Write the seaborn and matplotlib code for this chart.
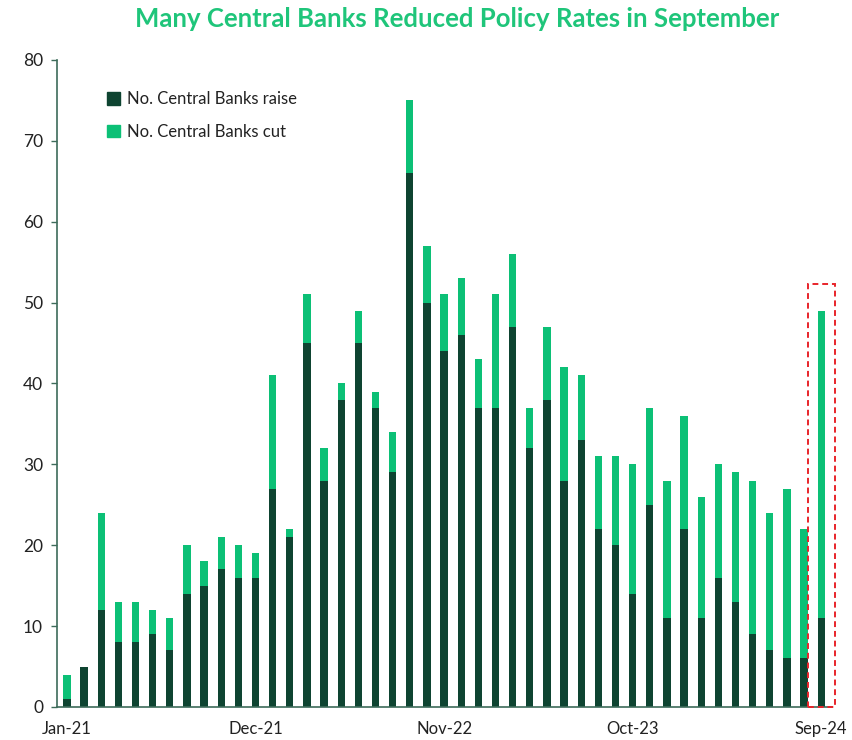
import matplotlib
matplotlib.use("Agg")
import matplotlib.pyplot as plt
import seaborn as sns
import pandas as pd
from matplotlib.patches import Rectangle, Patch

months = pd.date_range("2021-01-01", "2024-09-01", freq="MS").strftime("%b-%y").tolist()

raise_counts = [1, 5, 12, 8, 8, 9, 7, 14, 15, 17, 16, 16,
                27, 21, 45, 28, 38, 45, 37, 29, 66, 50, 44,
                46, 37, 37, 47, 32, 38, 28, 33, 22, 20, 14,
                25, 11, 22, 11, 16, 13, 9, 7, 6, 6, 11]
cut_counts = [3, 0, 12, 5, 5, 3, 4, 6, 3, 4, 4, 3,
              14, 1, 6, 4, 2, 4, 2, 5, 9, 7, 7,
              7, 6, 14, 9, 5, 9, 14, 8, 9, 11, 16,
              12, 17, 14, 15, 14, 16, 19, 17, 21, 16, 38]
tick_labels = ["Jan-21", "Dec-21", "Nov-22", "Oct-23", "Sep-24"]

RAISE_C = "#0e4431"
CUT_C = "#0cc076"

df = pd.DataFrame({
    "month": months,
    "raise": raise_counts,
    "total": [r + c for r, c in zip(raise_counts, cut_counts)],
})

sns.set_theme(style="white")
plt.rcParams["font.family"] = ["Lato", "DejaVu Sans"]

fig = plt.figure(figsize=(8.53, 7.4), dpi=100)
ax = fig.add_axes([0.0668, 0.0446, 0.908, 0.8744])

sns.barplot(data=df, x="month", y="total", color=CUT_C, width=0.42,
            saturation=1, ax=ax, order=months, linewidth=0, edgecolor="none")
sns.barplot(data=df, x="month", y="raise", color=RAISE_C, width=0.42,
            saturation=1, ax=ax, order=months, linewidth=0, edgecolor="none")

ax.set_ylim(0, 80)
ax.set_xlim(-0.58, 44.6)
ax.set_yticks(range(0, 81, 10))
pos = [months.index(l) for l in tick_labels]
ax.set_xticks(pos)
ax.set_xticklabels(tick_labels)
ax.set_xlabel("")
ax.set_ylabel("")

spine_c = "#3d6b5a"
for s in ["top", "right"]:
    ax.spines[s].set_visible(False)
for s in ["left", "bottom"]:
    ax.spines[s].set_color(spine_c)
    ax.spines[s].set_linewidth(1.2)
ax.tick_params(axis="y", which="major", left=True, length=4, width=1,
               color=spine_c, labelsize=12.5, labelcolor="#222222", pad=6)
ax.tick_params(axis="x", bottom=False, labelsize=12, labelcolor="#222222", pad=4)

# highlight latest month
last = len(months) - 1
ax.add_patch(Rectangle((last - 0.8, 0), 1.62, 52.3, fill=False,
                       edgecolor="#e8242a", linestyle=(0, (3, 2)), linewidth=1.4,
                       clip_on=False, zorder=5))

handles = [Patch(color=RAISE_C, label="No. Central Banks raise"),
           Patch(color=CUT_C, label="No. Central Banks cut")]
ax.legend(handles=handles, loc="upper left", bbox_to_anchor=(0.045, 0.975),
          frameon=False, fontsize=12, handlelength=0.8, handleheight=0.8,
          handletextpad=0.4, labelspacing=1.0, labelcolor="#222222")

fig.suptitle("Many Central Banks Reduced Policy Rates in September",
             x=0.536, y=0.99, color="#1fc57a", fontsize=18.5, fontweight="bold")

fig.savefig("out.png", dpi=100)
